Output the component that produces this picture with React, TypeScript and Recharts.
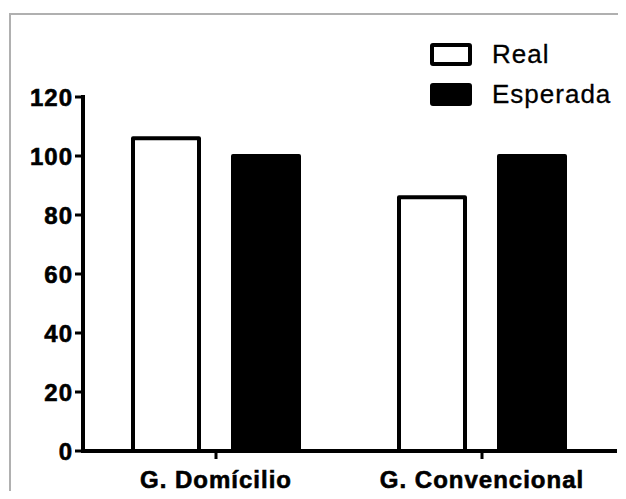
import React from 'react';
import { BarChart, Bar, XAxis, YAxis, Legend } from 'recharts';

const categories = ['G. Domícilio', 'G. Convencional'];
const realValues = [106, 86];
const expectedValues = [100, 100];
const yTicks = [0, 20, 40, 60, 80, 100, 120];

const seriesNames = { real: 'Real', esperada: 'Esperada' };

const data = categories.map((name, i) => ({
  name,
  real: realValues[i],
  esperada: expectedValues[i],
}));

const FONT = '"Liberation Sans", Arial, sans-serif';

const LegendContent = () => {
  const items = [
    { name: seriesNames.real, fill: '#fff' },
    { name: seriesNames.esperada, fill: '#000' },
  ];
  return (
    <div style={{ fontFamily: FONT }}>
      {items.map((it) => (
        <div key={it.name} style={{ display: 'flex', alignItems: 'center', height: 40 }}>
          <span
            style={{
              display: 'inline-block',
              boxSizing: 'border-box',
              width: 42,
              height: 23,
              border: '4px solid #000',
              borderRadius: 3,
              background: it.fill,
            }}
          />
          <span
            style={{
              marginLeft: 20,
              fontSize: 26,
              letterSpacing: 1,
              color: '#000',
              WebkitTextStroke: '0.3px #000',
            }}
          >
            {it.name}
          </span>
        </div>
      ))}
    </div>
  );
};

const App: React.FC = () => {
  const tickStyle = {
    fill: '#000',
    stroke: '#000',
    strokeWidth: 0.6,
    fontSize: 24,
    fontWeight: 'bold' as const,
    fontFamily: FONT,
    letterSpacing: 1,
  };
  const axisLine = { stroke: '#000', strokeWidth: 4, strokeLinecap: 'square' as const };
  const tickLine = { stroke: '#000', strokeWidth: 3 };

  return (
    <div
      style={{
        position: 'relative',
        width: 626,
        height: 499,
        margin: -8,
        overflow: 'hidden',
        background: '#fff',
        fontFamily: FONT,
      }}
    >
      <div
        style={{
          position: 'absolute',
          left: 9,
          top: 13,
          width: 700,
          height: 700,
          border: '2px solid #b0b0b0',
        }}
      />
      <BarChart
        width={626}
        height={499}
        data={data}
        margin={{ top: 97, right: 11, bottom: 0, left: 0 }}
        barSize={66}
        barGap={34}
        style={{ position: 'absolute', left: 0, top: 0 }}
      >
        <XAxis
          dataKey="name"
          height={48}
          tickSize={8}
          tickMargin={12}
          axisLine={axisLine}
          tickLine={tickLine}
          tick={tickStyle}
          interval={0}
        />
        <YAxis
          width={83}
          domain={[0, 120]}
          ticks={yTicks}
          tickSize={8}
          tickMargin={2}
          axisLine={axisLine}
          tickLine={tickLine}
          tick={tickStyle}
          interval={0}
        />
        <Legend
          layout="vertical"
          align="center"
          verticalAlign="middle"
          content={<LegendContent />}
          wrapperStyle={{ top: 34, left: 430, width: 190, height: 80 }}
        />
        <Bar
          dataKey="real"
          name={seriesNames.real}
          fill="#fff"
          stroke="#000"
          strokeWidth={4}
          strokeLinejoin="round"
          isAnimationActive={false}
        />
        <Bar
          dataKey="esperada"
          name={seriesNames.esperada}
          fill="#000"
          stroke="#000"
          strokeWidth={4}
          strokeLinejoin="round"
          isAnimationActive={false}
        />
      </BarChart>
    </div>
  );
};

export default App;
